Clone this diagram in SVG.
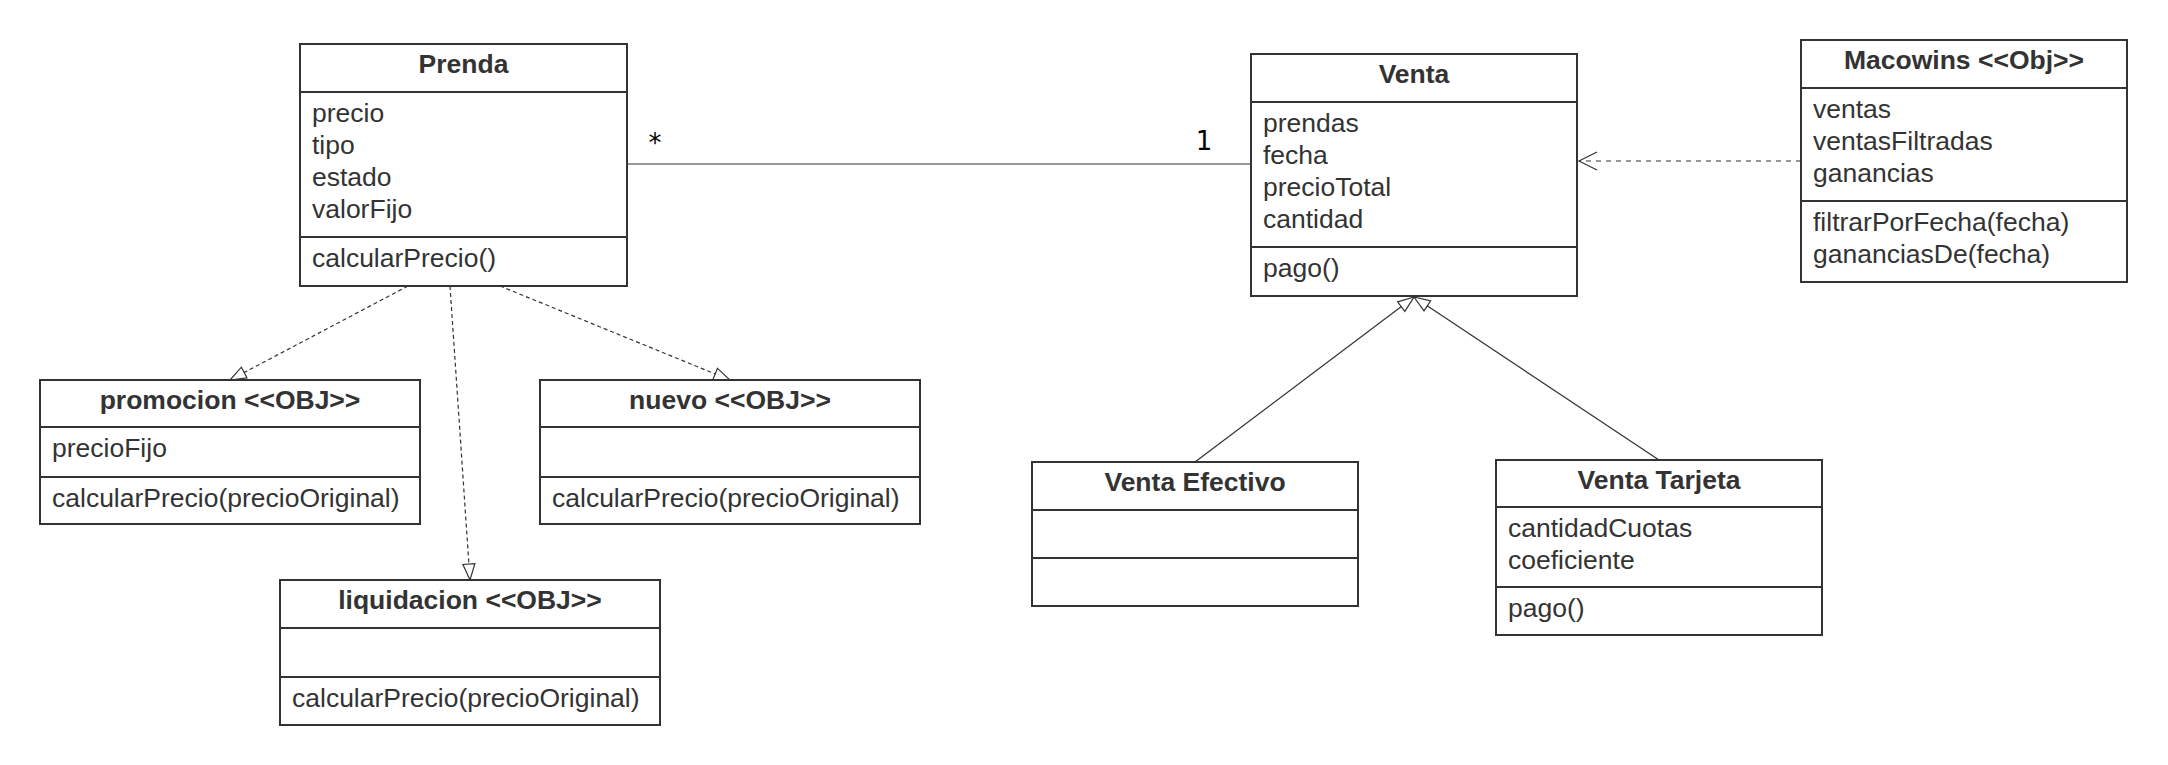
<svg xmlns="http://www.w3.org/2000/svg" width="2168" height="765" viewBox="0 0 2168 765">
<style>
.box{fill:#fff;stroke:#333;stroke-width:2}
.sep{stroke:#333;stroke-width:2}
.t{font-family:"Liberation Sans",Arial,sans-serif;font-size:26.5px;fill:#333}
.h{font-family:"Liberation Sans",Arial,sans-serif;font-size:26.5px;font-weight:bold;fill:#333;text-anchor:middle}
.c{fill:none;stroke:#333;stroke-width:1.2}
.d{stroke-dasharray:4 3}
.d2{stroke-dasharray:5 5}
.lbl{font-family:"DejaVu Sans",sans-serif;font-size:26px;fill:#000;text-anchor:middle}
</style>
<defs>
<marker id="tri" markerUnits="userSpaceOnUse" markerWidth="18" markerHeight="16" viewBox="0 0 18 16" refX="17" refY="8" orient="auto">
<path d="M1,2 L17,8 L1,14 Z" fill="#fff" stroke="#333" stroke-width="1.2"/>
</marker>
<marker id="open" markerUnits="userSpaceOnUse" markerWidth="22" markerHeight="22" viewBox="0 0 22 22" refX="20" refY="11" orient="auto">
<path d="M2,2 L20,11 L2,20" fill="none" stroke="#333" stroke-width="1.2"/>
</marker>
</defs>
<rect width="2168" height="765" fill="#fff"/>

<g id="connectors">
<path class="c" d="M627,164 H1251"/>
<text class="lbl" x="655" y="152">*</text>
<text class="lbl" x="1204" y="150">1</text>
<path class="c d2" d="M1801,161 H1579" marker-end="url(#open)"/>
<path class="c d" d="M408,286 L230,380" marker-end="url(#tri)"/>
<path class="c d" d="M450,286 L470,580" marker-end="url(#tri)"/>
<path class="c d" d="M500,286 L730,380" marker-end="url(#tri)"/>
<path class="c" d="M1195,462 L1414,297" marker-end="url(#tri)"/>
<path class="c" d="M1659,460 L1414,297" marker-end="url(#tri)"/>
</g>

<g id="prenda">
<rect class="box" x="300" y="44" width="327" height="242"/>
<line class="sep" x1="300" y1="92" x2="627" y2="92"/>
<line class="sep" x1="300" y1="237" x2="627" y2="237"/>
<text class="h" x="463.5" y="73">Prenda</text>
<text class="t" x="312" y="122">precio</text>
<text class="t" x="312" y="154">tipo</text>
<text class="t" x="312" y="186">estado</text>
<text class="t" x="312" y="218">valorFijo</text>
<text class="t" x="312" y="267">calcularPrecio()</text>
</g>

<g id="venta">
<rect class="box" x="1251" y="54" width="326" height="242"/>
<line class="sep" x1="1251" y1="102" x2="1577" y2="102"/>
<line class="sep" x1="1251" y1="247" x2="1577" y2="247"/>
<text class="h" x="1414" y="83">Venta</text>
<text class="t" x="1263" y="132">prendas</text>
<text class="t" x="1263" y="164">fecha</text>
<text class="t" x="1263" y="196">precioTotal</text>
<text class="t" x="1263" y="228">cantidad</text>
<text class="t" x="1263" y="277">pago()</text>
</g>

<g id="macowins">
<rect class="box" x="1801" y="40" width="326" height="242"/>
<line class="sep" x1="1801" y1="88" x2="2127" y2="88"/>
<line class="sep" x1="1801" y1="201" x2="2127" y2="201"/>
<text class="h" x="1964" y="69">Macowins &lt;&lt;Obj&gt;&gt;</text>
<text class="t" x="1813" y="118">ventas</text>
<text class="t" x="1813" y="150">ventasFiltradas</text>
<text class="t" x="1813" y="182">ganancias</text>
<text class="t" x="1813" y="231">filtrarPorFecha(fecha)</text>
<text class="t" x="1813" y="263">gananciasDe(fecha)</text>
</g>

<g id="promocion">
<rect class="box" x="40" y="380" width="380" height="144"/>
<line class="sep" x1="40" y1="427" x2="420" y2="427"/>
<line class="sep" x1="40" y1="477" x2="420" y2="477"/>
<text class="h" x="230" y="409">promocion &lt;&lt;OBJ&gt;&gt;</text>
<text class="t" x="52" y="457">precioFijo</text>
<text class="t" x="52" y="507">calcularPrecio(precioOriginal)</text>
</g>

<g id="nuevo">
<rect class="box" x="540" y="380" width="380" height="144"/>
<line class="sep" x1="540" y1="427" x2="920" y2="427"/>
<line class="sep" x1="540" y1="477" x2="920" y2="477"/>
<text class="h" x="730" y="409">nuevo &lt;&lt;OBJ&gt;&gt;</text>
<text class="t" x="552" y="507">calcularPrecio(precioOriginal)</text>
</g>

<g id="liquidacion">
<rect class="box" x="280" y="580" width="380" height="145"/>
<line class="sep" x1="280" y1="628" x2="660" y2="628"/>
<line class="sep" x1="280" y1="677" x2="660" y2="677"/>
<text class="h" x="470" y="609">liquidacion &lt;&lt;OBJ&gt;&gt;</text>
<text class="t" x="292" y="707">calcularPrecio(precioOriginal)</text>
</g>

<g id="venta-efectivo">
<rect class="box" x="1032" y="462" width="326" height="144"/>
<line class="sep" x1="1032" y1="510" x2="1358" y2="510"/>
<line class="sep" x1="1032" y1="558" x2="1358" y2="558"/>
<text class="h" x="1195" y="491">Venta Efectivo</text>
</g>

<g id="venta-tarjeta">
<rect class="box" x="1496" y="460" width="326" height="175"/>
<line class="sep" x1="1496" y1="507" x2="1822" y2="507"/>
<line class="sep" x1="1496" y1="587" x2="1822" y2="587"/>
<text class="h" x="1659" y="489">Venta Tarjeta</text>
<text class="t" x="1508" y="537">cantidadCuotas</text>
<text class="t" x="1508" y="569">coeficiente</text>
<text class="t" x="1508" y="617">pago()</text>
</g>
</svg>
